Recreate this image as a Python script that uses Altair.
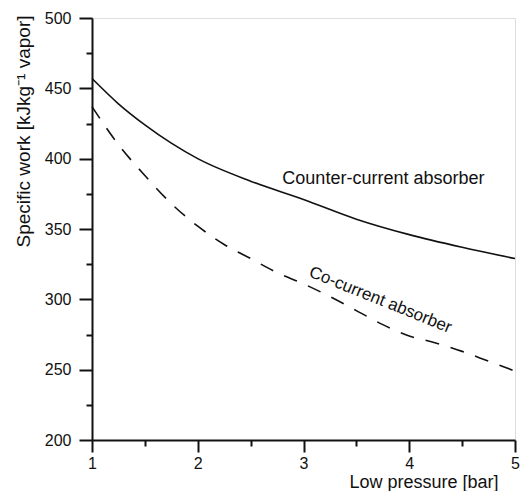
import altair as alt
import pandas as pd

# Specific compressor work vs. absorber low pressure
pressure_counter = [1.0, 1.25, 1.5, 1.75, 2.0, 2.5, 3.0, 3.5, 4.0, 4.5, 5.0]
work_counter = [457, 439, 424, 411, 400, 384, 371, 357, 346, 337, 329]

pressure_co = [1.0, 1.25, 1.5, 1.75, 2.0, 2.25, 2.5, 2.75, 3.0, 3.25, 3.5, 3.75, 4.0, 4.25, 4.5, 4.75, 5.0]
work_co = [437, 410, 388, 368, 352, 339, 329, 319, 311, 302, 292, 282, 274, 269, 263, 256, 249]

x_major = [1, 2, 3, 4, 5]
x_minor = [1.5, 2.5, 3.5, 4.5]
y_major = [200, 250, 300, 350, 400, 450, 500]
y_minor = [225, 275, 325, 375, 425, 475]

label_names = ["Counter-current absorber", "Co-current absorber"]
label_x = [2.80, 3.71]
label_y = [382.3, 296.2]
label_angle = [0, 22]
label_align = ["left", "center"]
label_size = [18, 17]

FONT = "Liberation Sans"
INK = "#111111"

counter_df = pd.DataFrame({"p": pressure_counter, "w": work_counter})
co_df = pd.DataFrame({"p": pressure_co, "w": work_co})

x_scale = alt.Scale(domain=[1, 5], nice=False, zero=False)
y_scale = alt.Scale(domain=[200, 500], nice=False, zero=False)

tick_style = dict(tickWidth=2, tickColor=INK, grid=False)

x_axis = alt.Axis(
    values=x_major, format="d", orient="bottom",
    tickSize=12, domainWidth=2, domainColor=INK,
    labelFont=FONT, labelFontSize=16, labelColor=INK, labelPadding=3,
    labelFlush=False,
    title="Low pressure [bar]", titleFont=FONT, titleFontSize=18,
    titleFontWeight="normal", titleColor=INK,
    titleAnchor="start", titleAlign="right", titleBaseline="alphabetic",
    titleX=406, titleY=47,
    **tick_style,
)

y_axis = alt.Axis(
    values=y_major, format="d", orient="left",
    tickSize=13, domainWidth=2, domainColor=INK,
    labelFont=FONT, labelFontSize=16, labelColor=INK, labelPadding=8,
    labelFlush=False,
    title="Specific work [kJkg⁻¹ vapor]", titleFont=FONT, titleFontSize=19,
    titleFontWeight="normal", titleColor=INK,
    titleAngle=-90, titleAlign="right", titleBaseline="middle",
    titleX=-69, titleY=-3,
    **tick_style,
)

# Minor tick axes: ticks only, drawn over the same scales
x_minor_axis = alt.Axis(values=x_minor, orient="bottom", tickSize=6, labels=False,
                        domain=False, title=None, **tick_style)
y_minor_axis = alt.Axis(values=y_minor, orient="left", tickSize=6, labels=False,
                        domain=False, title=None, **tick_style)

counter = alt.Chart(counter_df).mark_line(
    color=INK, strokeWidth=1.6, interpolate="monotone"
).encode(
    x=alt.X("p:Q", scale=x_scale, axis=x_axis),
    y=alt.Y("w:Q", scale=y_scale, axis=y_axis),
)

minor = alt.Chart(counter_df).mark_line(opacity=0).encode(
    x=alt.X("p:Q", scale=x_scale, axis=x_minor_axis),
    y=alt.Y("w:Q", scale=y_scale, axis=y_minor_axis),
)

co = alt.Chart(co_df).mark_line(
    color=INK, strokeWidth=1.6, strokeDash=[14, 12], interpolate="monotone"
).encode(
    x=alt.X("p:Q", scale=x_scale, axis=None),
    y=alt.Y("w:Q", scale=y_scale, axis=None),
)

label_layers = []
for name, lx, ly, ang, al, sz in zip(label_names, label_x, label_y, label_angle,
                                      label_align, label_size):
    ldf = pd.DataFrame({"p": [lx], "w": [ly], "t": [name]})
    kw = dict(font=FONT, fontSize=sz, color=INK, align=al, baseline="alphabetic")
    if ang:
        kw["angle"] = ang
    label_layers.append(
        alt.Chart(ldf).mark_text(**kw).encode(
            x=alt.X("p:Q", scale=x_scale, axis=None),
            y=alt.Y("w:Q", scale=y_scale, axis=None),
            text="t:N",
        )
    )

chart = alt.layer(counter, minor, co, *label_layers).resolve_axis(
    x="independent", y="independent"
).properties(
    width=423,
    height=422,
    padding={"left": 92, "top": 18, "right": 5, "bottom": 51},
    autosize=alt.AutoSizeParams(type="none"),
).configure_view(stroke=None).configure(background="white")

chart.save("out.html", embed_options={"renderer": "svg", "actions": False})
